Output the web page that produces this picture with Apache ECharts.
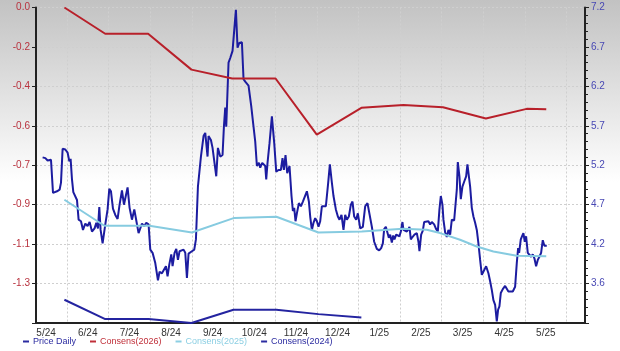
<!DOCTYPE html>
<html lang="en">
<head>
  <meta charset="utf-8">
  <title>Price and Consensus</title>
  <script src="https://cdn.jsdelivr.net/npm/echarts@6/dist/echarts.min.js"></script>
</head>
<body style="margin: 0; background: #fff;">

  <div id="container" style="width: 620px; height: 351px; background: linear-gradient(to bottom, #c2c2c2 0%, #ffffff 52%);"></div>

  <script type="text/javascript">
    // x values are months counted from June 2024 (0 = start of 6/24)
    const monthLabels = ['5/24','6/24','7/24','8/24','9/24','10/24','11/24','12/24','1/25','2/25','3/25','4/25','5/25'];
    const leftTickLabels = ['', '-1.3', '-1.1', '-0.9', '-0.7', '-0.6', '-0.4', '-0.2', '0.0'];
    const rightTickLabels = ['', '3.6', '4.2', '4.7', '5.2', '5.7', '6.2', '6.7', '7.2'];

    const priceMonth = [
      -0.583,-0.518,-0.463,-0.382,-0.334,-0.238,-0.175,-0.142,-0.103,-0.038,
      0.017,0.058,0.089,0.122,0.154,0.242,0.281,0.338,0.386,0.442,
      0.497,0.545,0.602,0.665,0.706,0.746,0.778,0.809,0.857,0.922,
      0.977,1.018,1.058,1.106,1.162,1.217,1.265,1.322,1.370,1.402,
      1.457,1.505,1.562,1.618,1.666,1.721,1.762,1.802,1.858,1.906,
      1.961,2.002,2.057,2.122,2.186,2.225,2.282,2.330,2.378,2.417,
      2.458,2.506,2.537,2.585,2.626,2.666,2.705,2.746,2.801,2.842,
      2.882,2.921,2.962,3.002,3.058,
      3.098,3.146,3.218,3.281,3.322,3.346,3.377,3.401,3.458,3.497,
      3.545,3.586,3.626,3.682,3.737,3.770,3.802,3.826,3.881,3.922,
      3.977,4.025,4.058,4.097,4.138,4.202,4.241,4.282,4.322,4.361,
      4.426,4.481,4.522,4.562,4.610,4.642,4.690,4.721,4.762,4.786,
      4.817,4.865,4.922,4.978,5.026,5.081,5.138,5.177,5.210,5.249,
      5.290,5.345,5.393,5.426,5.458,5.489,5.522,5.570,5.618,5.666,
      5.705,5.762,5.810,5.842,5.882,5.921,5.962,6.002,6.041,6.082,
      6.122,6.161,6.218,6.274,6.314,6.362,6.401,6.458,6.506,6.545,
      6.593,6.641,6.682,6.722,6.770,6.818,6.857,6.898,6.946,6.986,
      7.042,7.106,7.162,7.217,7.265,7.322,7.378,7.442,7.498,7.546,
      7.586,7.618,7.658,7.697,7.730,7.762,7.802,7.834,7.865,7.906,
      7.946,7.985,8.018,8.057,8.081,8.122,8.162,8.201,8.225,8.258,
      8.297,8.345,8.402,8.441,8.465,8.506,8.546,8.578,8.626,8.681,
      8.722,8.762,8.818,8.866,8.906,8.945,8.978,9.017,9.041,9.082,
      9.122,9.161,9.202,9.242,9.298,9.338,9.362,9.386,9.425,9.458,
      9.497,9.545,9.586,9.617,9.650,9.682,9.722,9.761,9.802,9.842,
      9.881,9.922,9.962,10.001,10.066,10.121,10.162,10.202,10.241,10.282,
      10.322,10.354,10.385,10.418,10.466,10.522,10.562,10.601,10.642,10.706,
      10.762,10.802,10.834,10.858,10.898,10.937,10.961,10.994,11.026,11.066,
      11.105,11.146,11.186,11.225,11.266,11.306,11.345,11.386,11.426,11.465,11.522
    ];
    const priceDaily = [
      5.30,5.29,5.26,5.27,4.85,4.87,4.89,4.98,5.41,5.40,
      5.36,5.25,5.28,5.02,4.86,4.76,4.51,4.49,4.38,4.46,
      4.43,4.48,4.36,4.40,4.47,4.40,4.67,4.38,4.21,4.45,
      4.64,4.90,4.87,4.65,4.57,4.52,4.70,4.88,4.70,4.68,
      4.92,4.66,4.51,4.64,4.50,4.34,4.32,4.46,4.43,4.47,
      4.45,4.13,4.09,3.96,3.74,3.85,3.83,3.82,3.92,3.79,
      3.94,4.07,3.92,4.09,4.14,4.00,4.11,4.11,4.13,4.09,
      3.77,4.08,4.09,4.11,4.13,
      4.26,4.93,5.31,5.57,5.61,5.48,5.31,5.57,5.52,5.42,
      5.44,5.06,5.42,5.31,5.33,5.69,5.93,5.69,6.50,6.56,
      6.65,6.96,7.17,6.69,6.75,6.76,6.29,6.26,6.26,6.21,
      5.95,5.69,5.50,5.19,5.23,5.17,5.23,5.25,5.19,5.02,
      5.23,5.48,5.82,5.48,5.12,5.14,5.14,5.29,5.14,5.33,
      5.10,5.19,4.81,4.62,4.66,4.49,4.59,4.72,4.68,4.74,
      4.72,4.87,4.74,4.55,4.38,4.47,4.53,4.49,4.42,4.49,
      4.68,4.66,4.68,4.98,5.21,4.98,4.81,4.64,4.55,4.51,
      4.57,4.38,4.57,4.51,4.55,4.70,4.74,4.55,4.51,4.59,
      4.40,4.42,4.68,4.72,4.74,4.42,4.23,4.14,4.12,4.15,
      4.21,4.39,4.42,4.42,4.28,4.32,4.22,4.31,4.26,4.32,
      4.34,4.30,4.36,4.48,4.38,4.40,4.36,4.39,4.42,4.26,
      4.29,4.32,4.34,4.23,4.11,4.32,4.37,4.48,4.48,4.49,
      4.45,4.48,4.45,4.39,4.36,4.64,4.81,4.70,4.51,4.35,
      4.29,4.38,4.32,4.51,4.50,4.51,4.89,5.24,5.06,4.77,
      4.93,5.00,5.06,5.21,5.20,4.93,4.66,4.55,4.47,4.38,
      4.21,4.00,3.81,3.83,3.92,3.83,3.73,3.62,3.49,3.43,
      3.22,3.37,3.41,3.58,3.63,3.67,3.68,3.60,3.59,3.60,
      3.66,3.96,4.15,4.09,4.26,4.31,4.34,4.23,4.30,4.09,
      4.07,4.04,4.07,4.02,3.92,4.00,4.04,4.09,4.25,4.18,4.18
    ];

    const consensMonth2026 = [-0.06,0.92,1.95,2.99,3.97,5.01,6.00,7.07,8.08,9.03,10.06,11.04,11.51];
    const consens2026 = [0.0,-0.133,-0.133,-0.315,-0.36,-0.36,-0.645,-0.509,-0.494,-0.506,-0.563,-0.514,-0.516];

    const consensMonth2025 = [-0.06,0.90,1.98,3.00,4.02,5.03,6.04,7.08,8.07,8.64,8.96,9.44,9.84,10.24,10.80,11.51];
    const consens2025 = [-0.975,-1.107,-1.107,-1.141,-1.067,-1.061,-1.141,-1.136,-1.122,-1.127,-1.144,-1.178,-1.212,-1.237,-1.259,-1.262];

    const consensMonth2024 = [-0.06,0.92,1.96,2.99,4.00,5.03,6.04,7.07];
    const consens2024 = [-1.482,-1.580,-1.580,-1.600,-1.533,-1.533,-1.555,-1.572];

    function pairs(xs, ys) {
      const n = Math.min(xs.length, ys.length);
      const out = [];
      for (let i = 0; i < n; i++) out.push([xs[i], ys[i]]);
      return out;
    }

    const FONT = "'Liberation Sans', Arial, sans-serif";
    const gridLine = { show: true, lineStyle: { color: '#cfcfcf', type: [2, 2], width: 1 } };
    const axisDark = { show: true, onZero: false, lineStyle: { color: '#222', width: 2 } };

    const myChart = echarts.init(document.getElementById('container'), null, { renderer: 'canvas' });

    const option = {
      backgroundColor: 'transparent',
      animation: false,
      textStyle: { fontFamily: FONT },
      grid: { left: 36, right: 35, top: 7.5, bottom: 28 },
      legend: {
        left: 18,
        bottom: 0,
        icon: 'rect',
        itemWidth: 6,
        itemHeight: 2,
        itemGap: 14,
        textStyle: { fontSize: 9, fontFamily: FONT, padding: [0, 0, 0, -1] },
        data: [
          { name: 'Price Daily', textStyle: { color: '#2b2ba0' } },
          { name: 'Consens(2026)', textStyle: { color: '#c0303a' } },
          { name: 'Consens(2025)', textStyle: { color: '#8ccfe3' } },
          { name: 'Consens(2024)', textStyle: { color: '#2b2ba0' } }
        ]
      },
      xAxis: [
        {
          type: 'value',
          min: -0.742,
          max: 12.44,
          splitNumber: 13,
          minInterval: 1,
          maxInterval: 1,
          position: 'bottom',
          axisLine: axisDark,
          axisTick: { show: false },
          axisLabel: { show: false },
          splitLine: gridLine
        },
        {
          type: 'value',
          min: -0.242,
          max: 12.94,
          splitNumber: 13,
          minInterval: 1,
          maxInterval: 1,
          position: 'bottom',
          axisLine: { show: false, onZero: false },
          axisTick: { show: false },
          splitLine: { show: false },
          axisLabel: {
            color: '#333',
            fontSize: 10,
            margin: 5,
            showMinLabel: false,
            showMaxLabel: false,
            formatter: v => Number.isInteger(v) ? (monthLabels[v] || '') : ''
          }
        }
      ],
      yAxis: [
        {
          type: 'value',
          position: 'left',
          min: -1.6,
          max: 0,
          interval: 0.2,
          axisLine: axisDark,
          axisTick: { show: true, length: 4, lineStyle: { color: '#222', width: 1 } },
          axisLabel: {
            color: '#b8323e',
            fontSize: 10,
            margin: 6,
            formatter: v => leftTickLabels[Math.round((v + 1.6) / 0.2)] || ''
          },
          splitLine: gridLine
        },
        {
          type: 'value',
          position: 'right',
          min: 3.2,
          max: 7.2,
          interval: 0.5,
          axisLine: axisDark,
          axisTick: { show: true, length: 4, lineStyle: { color: '#222', width: 1 } },
          minorTick: { show: true, splitNumber: 5, length: 3, lineStyle: { color: '#222', width: 1 } },
          axisLabel: {
            color: '#4848b4',
            fontSize: 10,
            margin: 6,
            formatter: v => rightTickLabels[Math.round((v - 3.2) / 0.5)] || ''
          },
          splitLine: { show: false }
        }
      ],
      series: [
        {
          name: 'Price Daily',
          type: 'line',
          xAxisIndex: 0,
          yAxisIndex: 1,
          showSymbol: false,
          symbol: 'none',
          data: pairs(priceMonth, priceDaily),
          lineStyle: { color: '#1c1ca0', width: 2 },
          itemStyle: { color: '#2b2ba0' }
        },
        {
          name: 'Consens(2026)',
          type: 'line',
          xAxisIndex: 0,
          yAxisIndex: 0,
          symbol: 'none',
          data: pairs(consensMonth2026, consens2026),
          lineStyle: { color: '#b8202a', width: 2 },
          itemStyle: { color: '#c0303a' }
        },
        {
          name: 'Consens(2025)',
          type: 'line',
          xAxisIndex: 0,
          yAxisIndex: 0,
          symbol: 'none',
          data: pairs(consensMonth2025, consens2025),
          lineStyle: { color: '#86cbe0', width: 2 },
          itemStyle: { color: '#8ccfe3' }
        },
        {
          name: 'Consens(2024)',
          type: 'line',
          xAxisIndex: 0,
          yAxisIndex: 0,
          symbol: 'none',
          clip: false,
          data: pairs(consensMonth2024, consens2024),
          lineStyle: { color: '#2424a0', width: 2 },
          itemStyle: { color: '#2b2ba0' }
        }
      ]
    };

    myChart.setOption(option);
    window.addEventListener('resize', myChart.resize);
  </script>
</body>
</html>
